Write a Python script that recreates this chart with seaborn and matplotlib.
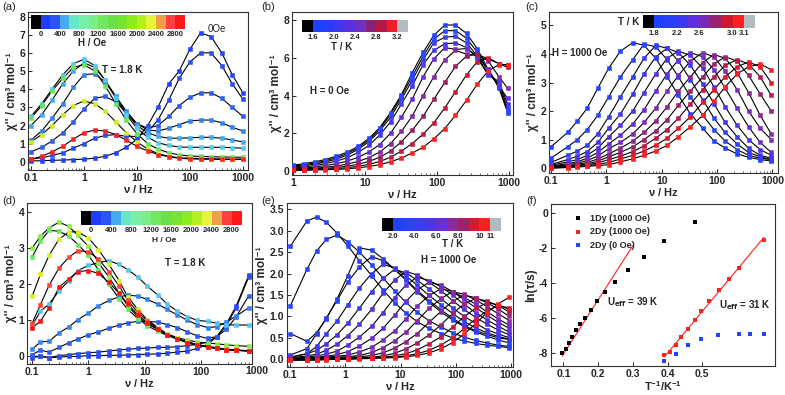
import numpy as np
import pandas as pd
import matplotlib
matplotlib.use("Agg")
import matplotlib.pyplot as plt
import seaborn as sns
from matplotlib.colors import ListedColormap
from matplotlib.ticker import FixedLocator, FixedFormatter, LogLocator, NullFormatter

sns.set_style("ticks")
plt.rcParams['font.family'] = ['Liberation Sans', 'DejaVu Sans']
plt.rcParams['font.weight'] = 'bold'
plt.rcParams['axes.labelweight'] = 'bold'
plt.rcParams['axes.unicode_minus'] = False
plt.rcParams['mathtext.default'] = 'regular'

W, H = 785, 395

# ---------------- (a) 1.8 K, field dependence ----------------
freq_a = [0.1, 0.16, 0.25, 0.4, 0.63, 1, 1.6, 2.5, 4, 6.3, 10, 16, 25, 40, 63, 100, 160, 250, 400, 630, 1000]
chi_a_0 = [0.05, 0.06, 0.08, 0.1, 0.12, 0.15, 0.2, 0.3, 0.5, 0.8, 1.25, 2.0, 3.0, 4.3, 5.0, 6.2, 7.1, 6.9, 6.0, 4.8, 3.8]
chi_a_200 = [0.15, 0.22, 0.35, 0.5, 0.75, 1.0, 1.3, 1.45, 1.5, 1.4, 1.4, 1.65, 2.3, 3.4, 4.6, 5.5, 6.0, 6.0, 5.3, 4.3, 3.45]
chi_a_400 = [0.55, 0.8, 1.15, 1.6, 2.2, 2.9, 3.5, 3.6, 3.3, 2.7, 2.1, 1.85, 2.0, 2.5, 3.1, 3.55, 3.8, 3.8, 3.5, 3.0, 2.5]
chi_a_600 = [1.2, 1.7, 2.4, 3.2, 4.1, 4.8, 4.85, 4.4, 3.6, 2.8, 2.1, 1.75, 1.7, 1.85, 2.05, 2.25, 2.3, 2.3, 2.15, 1.9, 1.7]
chi_a_800 = [2.0, 2.6, 3.4, 4.3, 5.0, 5.45, 5.2, 4.5, 3.6, 2.7, 2.0, 1.6, 1.4, 1.3, 1.3, 1.32, 1.35, 1.35, 1.3, 1.2, 1.1]
chi_a_1000 = [2.5, 3.2, 4.0, 4.8, 5.4, 5.65, 5.3, 4.5, 3.5, 2.6, 1.85, 1.35, 1.05, 0.9, 0.82, 0.8, 0.8, 0.8, 0.8, 0.78, 0.75]
chi_a_1400 = [2.4, 3.1, 3.9, 4.6, 5.2, 5.35, 5.0, 4.2, 3.2, 2.3, 1.55, 1.0, 0.7, 0.5, 0.38, 0.32, 0.3, 0.28, 0.27, 0.26, 0.25]
chi_a_2000 = [1.1, 1.5, 2.0, 2.6, 3.1, 3.35, 3.2, 2.8, 2.2, 1.6, 1.1, 0.7, 0.45, 0.3, 0.22, 0.2, 0.18, 0.17, 0.16, 0.15, 0.15]
chi_a_2800 = [0.15, 0.3, 0.55, 0.85, 1.25, 1.6, 1.75, 1.7, 1.5, 1.2, 0.85, 0.6, 0.4, 0.28, 0.2, 0.16, 0.15, 0.14, 0.13, 0.13, 0.13]
curves_a = [chi_a_0, chi_a_200, chi_a_400, chi_a_600, chi_a_800, chi_a_1000, chi_a_1400, chi_a_2000, chi_a_2800]
colors_a = ["#2244ff", "#2a50f4", "#2e60f0", "#3584ee", "#44aaee", "#55ccee", "#66e855", "#ccee22", "#ff2222"]

# ---------------- (b) zero field, temperature dependence ----------------
freq_b = [1, 1.41, 2, 2.8, 4, 5.7, 8, 11.3, 16, 22.6, 32, 45, 64, 90, 128, 180, 256, 360, 510, 720, 950]
chi_b_1 = [0.30, 0.38, 0.48, 0.60, 0.78, 1.00, 1.30, 1.72, 2.30, 3.10, 4.05, 5.20, 6.30, 7.20, 7.75, 7.75, 7.30, 6.50, 5.40, 4.40, 3.10]
chi_b_2 = [0.25, 0.32, 0.42, 0.53, 0.70, 0.92, 1.22, 1.65, 2.22, 3.00, 3.95, 5.00, 6.10, 7.00, 7.45, 7.45, 7.05, 6.30, 5.30, 4.50, 3.20]
chi_b_3 = [0.20, 0.27, 0.36, 0.47, 0.62, 0.84, 1.14, 1.55, 2.12, 2.85, 3.80, 4.80, 5.90, 6.80, 7.10, 7.15, 6.80, 6.10, 5.15, 4.65, 3.35]
chi_b_4 = [0.15, 0.20, 0.28, 0.38, 0.52, 0.70, 0.98, 1.35, 1.90, 2.60, 3.55, 4.50, 5.65, 6.40, 6.75, 6.80, 6.55, 6.00, 5.10, 4.75, 3.55]
chi_b_5 = [0.10, 0.14, 0.20, 0.28, 0.38, 0.52, 0.72, 1.00, 1.40, 2.00, 2.85, 3.80, 5.00, 5.95, 6.55, 6.45, 6.50, 6.10, 5.40, 4.50, 3.85]
chi_b_6 = [0.07, 0.10, 0.14, 0.19, 0.26, 0.36, 0.50, 0.70, 1.00, 1.45, 2.10, 2.90, 4.00, 5.00, 5.90, 6.40, 6.20, 6.15, 5.85, 5.00, 4.40]
chi_b_7 = [0.05, 0.07, 0.10, 0.13, 0.18, 0.25, 0.35, 0.50, 0.72, 1.05, 1.55, 2.15, 2.90, 3.80, 4.70, 5.55, 6.10, 6.20, 5.95, 5.70, 5.50]
chi_b_8 = [0.03, 0.05, 0.07, 0.09, 0.12, 0.17, 0.24, 0.34, 0.50, 0.72, 1.05, 1.45, 1.95, 2.55, 3.35, 4.20, 5.10, 5.80, 6.00, 5.70, 5.60]
chi_b_9 = [0.02, 0.03, 0.05, 0.06, 0.08, 0.11, 0.16, 0.23, 0.33, 0.48, 0.68, 0.95, 1.25, 1.70, 2.25, 2.95, 3.75, 4.60, 5.30, 5.65, 5.65]
curves_b = [chi_b_1, chi_b_2, chi_b_3, chi_b_4, chi_b_5, chi_b_6, chi_b_7, chi_b_8, chi_b_9]
colors_b = ["#2244ff", "#2a48ff", "#3a40f4", "#4a38ee", "#6a30dd", "#8a2aa8", "#9a2060", "#cc1840", "#ff2020"]

# ---------------- (c) 1000 Oe, 1.8 - 3.1 K ----------------
freq_c = [0.1, 0.2, 0.3, 0.45, 0.7, 1.1, 1.8, 3, 4.8, 7.8, 12.5, 20, 33, 55, 88, 140, 230, 370, 600, 950]
chi_c_1 = [0.75, 1.25, 1.65, 2.1, 2.8, 3.5, 4.1, 4.4, 4.3, 3.85, 3.2, 2.55, 1.9, 1.4, 0.95, 0.7, 0.5, 0.38, 0.3, 0.25]
chi_c_2 = [0.35, 0.75, 1.0, 1.35, 1.85, 2.5, 3.2, 3.8, 4.35, 4.25, 3.8, 3.2, 2.5, 1.85, 1.35, 0.95, 0.65, 0.45, 0.35, 0.3]
chi_c_3 = [0.2, 0.45, 0.6, 0.8, 1.2, 1.8, 2.5, 3.2, 3.85, 4.3, 4.2, 3.75, 3.1, 2.4, 1.75, 1.25, 0.85, 0.55, 0.4, 0.3]
chi_c_4 = [0.13, 0.3, 0.42, 0.58, 0.9, 1.4, 1.9, 2.6, 3.3, 3.9, 4.2, 4.05, 3.6, 2.95, 2.25, 1.6, 1.1, 0.7, 0.45, 0.35]
chi_c_5 = [0.1, 0.22, 0.3, 0.45, 0.7, 1.1, 1.5, 2.0, 2.65, 3.3, 3.85, 4.1, 3.95, 3.5, 2.85, 2.15, 1.5, 1.0, 0.65, 0.45]
chi_c_6 = [0.07, 0.16, 0.22, 0.35, 0.55, 0.85, 1.15, 1.55, 2.05, 2.7, 3.3, 3.8, 4.05, 3.9, 3.45, 2.8, 2.1, 1.45, 0.9, 0.55]
chi_c_7 = [0.05, 0.12, 0.17, 0.27, 0.42, 0.68, 0.9, 1.2, 1.6, 2.1, 2.7, 3.25, 3.75, 4.05, 3.9, 3.4, 2.75, 2.0, 1.4, 1.0]
chi_c_8 = [0.04, 0.09, 0.13, 0.2, 0.32, 0.5, 0.7, 0.95, 1.25, 1.65, 2.15, 2.7, 3.2, 3.7, 3.98, 3.85, 3.35, 2.65, 1.85, 1.2]
chi_c_9 = [0.03, 0.07, 0.1, 0.15, 0.24, 0.4, 0.55, 0.75, 1.0, 1.3, 1.7, 2.2, 2.7, 3.2, 3.65, 3.9, 3.75, 3.25, 2.6, 2.0]
chi_c_10 = [0.02, 0.05, 0.08, 0.12, 0.18, 0.3, 0.42, 0.58, 0.78, 1.05, 1.35, 1.75, 2.25, 2.75, 3.2, 3.6, 3.8, 3.65, 3.2, 2.55]
chi_c_11 = [0.01, 0.03, 0.06, 0.09, 0.13, 0.2, 0.32, 0.45, 0.6, 0.8, 1.05, 1.4, 1.8, 2.3, 2.75, 3.2, 3.55, 3.72, 3.55, 3.0]
chi_c_12 = [0.0, 0.02, 0.04, 0.06, 0.09, 0.12, 0.22, 0.33, 0.45, 0.6, 0.8, 1.1, 1.45, 1.85, 2.35, 2.85, 3.3, 3.55, 3.65, 3.45]
curves_c = [chi_c_1, chi_c_2, chi_c_3, chi_c_4, chi_c_5, chi_c_6, chi_c_7, chi_c_8, chi_c_9, chi_c_10, chi_c_11, chi_c_12]
colors_c = ["#2244ff", "#2a48f8", "#3440f0", "#4038ee", "#5234e4", "#6a30d8", "#7e2cc0", "#902690", "#a02070", "#c01848", "#e81828", "#ff2020"]

# ---------------- (d) 1.8 K, field dependence ----------------
freq_d = [0.1, 0.14, 0.2, 0.3, 0.45, 0.65, 1, 1.5, 2.3, 3.5, 5, 7.5, 11, 17, 25, 38, 57, 85, 130, 190, 280, 420, 700]
chi_d_0 = [-0.03, 0.0, -0.03, -0.02, 0.0, 0.0, 0.02, 0.02, 0.03, 0.03, 0.04, 0.05, 0.06, 0.07, 0.09, 0.12, 0.15, 0.22, 0.33, 0.55, 0.9, 1.4, 2.25]
chi_d_200 = [0.0, 0.0, -0.03, 0.02, 0.05, 0.08, 0.1, 0.12, 0.15, 0.18, 0.2, 0.22, 0.23, 0.25, 0.25, 0.27, 0.3, 0.33, 0.4, 0.55, 0.85, 1.35, 2.2]
chi_d_400 = [0.05, 0.17, 0.12, 0.25, 0.38, 0.48, 0.6, 0.68, 0.78, 0.87, 0.93, 0.97, 0.97, 0.95, 0.88, 0.8, 0.68, 0.57, 0.5, 0.55, 0.75, 1.1, 1.68]
chi_d_600 = [0.2, 0.4, 0.42, 0.65, 0.82, 1.02, 1.2, 1.4, 1.55, 1.65, 1.7, 1.67, 1.58, 1.45, 1.3, 1.15, 1.0, 0.88, 0.8, 0.82, 0.95, 1.12, 1.35]
chi_d_800 = [0.85, 1.25, 1.45, 1.82, 2.1, 2.38, 2.52, 2.6, 2.65, 2.55, 2.4, 2.2, 1.95, 1.7, 1.45, 1.25, 1.1, 1.0, 0.97, 0.92, 0.88, 0.87, 0.87]
chi_d_1200 = [3.0, 3.33, 3.56, 3.72, 3.6, 3.35, 3.05, 2.6, 2.2, 1.75, 1.4, 1.1, 0.9, 0.75, 0.62, 0.52, 0.45, 0.4, 0.37, 0.35, 0.32, 0.3, 0.28]
chi_d_1600 = [2.75, 3.19, 3.49, 3.47, 3.33, 3.1, 2.8, 2.4, 2.0, 1.6, 1.3, 1.05, 0.85, 0.7, 0.58, 0.48, 0.4, 0.33, 0.28, 0.24, 0.2, 0.18, 0.16]
chi_d_2000 = [1.67, 2.27, 2.8, 3.25, 3.45, 3.45, 3.28, 2.96, 2.55, 2.1, 1.65, 1.3, 1.02, 0.8, 0.62, 0.5, 0.4, 0.33, 0.27, 0.22, 0.19, 0.17, 0.15]
chi_d_2400 = [0.92, 1.43, 1.97, 2.45, 2.75, 2.93, 2.9, 2.7, 2.35, 1.95, 1.55, 1.22, 0.98, 0.77, 0.6, 0.48, 0.38, 0.31, 0.26, 0.22, 0.19, 0.17, 0.15]
chi_d_2800 = [0.8, 0.97, 1.35, 1.92, 2.15, 2.35, 2.38, 2.3, 2.05, 1.75, 1.45, 1.15, 0.93, 0.75, 0.6, 0.48, 0.38, 0.31, 0.26, 0.22, 0.19, 0.17, 0.15]
curves_d = [chi_d_0, chi_d_200, chi_d_400, chi_d_600, chi_d_800, chi_d_1200, chi_d_1600, chi_d_2000, chi_d_2400, chi_d_2800]
colors_d = ["#2244ff", "#2a50f4", "#2e60f0", "#3584ee", "#55c4ee", "#88ee44", "#66e866", "#ddee22", "#ff4433", "#ff1111"]

# ---------------- (e) 1000 Oe, 2 - 11 K ----------------
freq_e = [0.1, 0.2, 0.3, 0.45, 0.7, 1.1, 1.8, 3, 4.8, 7.8, 12.5, 20, 33, 55, 88, 140, 230, 370, 600, 950]
chi_e_1 = [2.64, 3.23, 3.32, 3.2, 2.95, 2.65, 2.3, 1.95, 1.62, 1.32, 1.08, 0.88, 0.72, 0.6, 0.5, 0.43, 0.37, 0.33, 0.3, 0.27]
chi_e_2 = [1.25, 2.1, 2.53, 2.8, 2.9, 2.75, 2.5, 2.2, 1.9, 1.6, 1.33, 1.1, 0.9, 0.75, 0.62, 0.52, 0.44, 0.38, 0.33, 0.3]
chi_e_3 = [0.6, 0.42, 0.62, 0.95, 1.4, 1.95, 2.6, 2.55, 2.35, 2.1, 1.85, 1.58, 1.33, 1.1, 0.92, 0.77, 0.64, 0.54, 0.45, 0.38]
chi_e_4 = [0.1, 0.25, 0.6, 0.96, 1.37, 1.8, 2.16, 2.4, 2.3, 2.11, 1.87, 1.61, 1.37, 1.15, 0.96, 0.79, 0.67, 0.58, 0.5, 0.46]
chi_e_5 = [0.05, 0.13, 0.3, 0.6, 0.89, 1.27, 1.67, 2.0, 2.22, 2.13, 1.95, 1.73, 1.49, 1.27, 1.07, 0.89, 0.73, 0.62, 0.53, 0.47]
chi_e_6 = [0.05, 0.13, 0.21, 0.36, 0.57, 0.84, 1.2, 1.58, 1.89, 2.1, 2.02, 1.85, 1.64, 1.41, 1.2, 1.01, 0.84, 0.69, 0.59, 0.5]
chi_e_7 = [0.03, 0.08, 0.12, 0.21, 0.35, 0.55, 0.82, 1.17, 1.54, 1.85, 2.05, 1.97, 1.8, 1.6, 1.37, 1.17, 0.98, 0.82, 0.68, 0.57]
chi_e_8 = [0.02, 0.05, 0.08, 0.12, 0.19, 0.33, 0.52, 0.77, 1.09, 1.44, 1.73, 1.92, 1.84, 1.69, 1.5, 1.29, 1.09, 0.92, 0.77, 0.63]
chi_e_9 = [0.02, 0.03, 0.05, 0.07, 0.11, 0.18, 0.31, 0.49, 0.72, 1.03, 1.35, 1.62, 1.8, 1.73, 1.58, 1.4, 1.21, 1.03, 0.86, 0.72]
chi_e_10 = [0.01, 0.02, 0.03, 0.05, 0.07, 0.1, 0.17, 0.28, 0.45, 0.66, 0.94, 1.24, 1.49, 1.65, 1.58, 1.45, 1.29, 1.11, 0.94, 0.79]
chi_e_11 = [0.0, 0.01, 0.02, 0.03, 0.05, 0.06, 0.09, 0.16, 0.27, 0.43, 0.63, 0.9, 1.19, 1.42, 1.58, 1.52, 1.39, 1.23, 1.06, 0.9]
chi_e_12 = [0.0, 0.0, 0.01, 0.02, 0.03, 0.04, 0.06, 0.09, 0.15, 0.26, 0.41, 0.6, 0.86, 1.13, 1.35, 1.5, 1.44, 1.32, 1.17, 1.0]
chi_e_13 = [0.0, 0.0, 0.0, 0.01, 0.02, 0.03, 0.04, 0.05, 0.08, 0.14, 0.24, 0.38, 0.57, 0.81, 1.07, 1.28, 1.42, 1.36, 1.25, 1.1]
chi_e_14 = [0.0, 0.0, 0.0, 0.0, 0.01, 0.02, 0.03, 0.04, 0.05, 0.08, 0.13, 0.22, 0.36, 0.53, 0.75, 0.99, 1.19, 1.32, 1.27, 1.16]
chi_e_15 = [-0.02, -0.02, -0.01, 0.0, 0.0, 0.01, 0.02, 0.03, 0.04, 0.05, 0.08, 0.13, 0.21, 0.34, 0.5, 0.71, 0.94, 1.13, 1.25, 1.2]
chi_e_16 = [-0.02, -0.02, -0.02, -0.01, 0.0, 0.0, 0.01, 0.02, 0.03, 0.04, 0.06, 0.09, 0.15, 0.25, 0.39, 0.58, 0.83, 1.09, 1.3, 1.45]
curves_e = [chi_e_1, chi_e_2, chi_e_3, chi_e_4, chi_e_5, chi_e_6, chi_e_7, chi_e_8,
            chi_e_9, chi_e_10, chi_e_11, chi_e_12, chi_e_13, chi_e_14, chi_e_15, chi_e_16]
colors_e = ["#2244ff", "#2446ff", "#2a44f8", "#3040f4", "#3a3cf0", "#4438ec", "#5034e6", "#5e30e0",
            "#6c2ed6", "#7a2cc4", "#8a28a8", "#982490", "#a42070", "#c01a48", "#e01830", "#ff2020"]

# ---------------- (f) Arrhenius ----------------
invT_1dy = [0.096, 0.108, 0.116, 0.125, 0.137, 0.149, 0.163, 0.18, 0.197, 0.221, 0.249, 0.286, 0.332, 0.391, 0.478]
lntau_1dy = [-8.0, -7.76, -7.44, -7.12, -6.72, -6.37, -5.99, -5.56, -5.04, -4.52, -3.95, -3.29, -2.54, -1.64, -0.53]
invT_2dy = [0.391, 0.406, 0.425, 0.44, 0.459, 0.478, 0.497, 0.521, 0.548, 0.576, 0.606, 0.678]
lntau_2dy = [-8.15, -7.97, -7.53, -7.1, -6.63, -6.12, -5.59, -5.03, -4.43, -3.8, -3.14, -1.54]
invT_2dy0 = [0.391, 0.425, 0.459, 0.497, 0.547, 0.606, 0.639, 0.678]
lntau_2dy0 = [-8.44, -8.06, -7.53, -7.19, -7.0, -6.91, -6.91, -6.93]
fit1_x = [0.096, 0.3]
fit1_y = [-8.19, -1.88]
fit2_x = [0.391, 0.678]
fit2_y = [-8.23, -1.41]

# colour bars (discrete blocks)
cbar_H = ["#000000", "#1e3cff", "#2a55f0", "#45aaf0", "#66e8c8", "#77f0a8", "#7cee88", "#70e860",
          "#6ae048", "#78e430", "#8cec20", "#b4f020", "#e4f43c", "#eca048", "#ff4040", "#ff1818"]
cbar_H_labels = ["0", "400", "800", "1200", "1600", "2000", "2400", "2800"]
cbar_b = ["#000000", "#1e40ff", "#2a3cf8", "#4038f0", "#5a30e0", "#7030c8", "#8a2078", "#b81848", "#f01c28", "#b0bcc0"]
cbar_b_labels = ["1.6", "2.0", "2.4", "2.8", "3.2"]
cbar_c = ["#000000", "#1e40ff", "#2a40f8", "#3c38f0", "#6030e0", "#7a2ab8", "#9a2070", "#d01830", "#ff2020", "#b0bcc0"]
cbar_c_labels = ["1.8", "2.2", "2.6", "3.0", "3.1"]
cbar_e = ["#000000", "#1e40ff", "#2a44f8", "#3a3cf0", "#4a34e8", "#6a30d8", "#8a2aa0", "#a02068", "#d81830", "#ff2020", "#b0bcc0"]
cbar_e_labels = ["2.0", "4.0", "6.0", "8.0", "10", "11"]

fig = plt.figure(figsize=(W / 100, H / 100), dpi=100)


def px_axes(l, t, r, b):
    return fig.add_axes([l / W, 1 - b / H, (r - l) / W, (b - t) / H])


def ftext(x, y, s, **kw):
    kw.setdefault("fontsize", 7)
    kw.setdefault("fontweight", "bold")
    fig.text(x / W, 1 - y / H, s, ha=kw.pop("ha", "center"), va=kw.pop("va", "center"), **kw)


def style(ax):
    ax.tick_params(direction="in", labelsize=7.5, width=0.7, length=3, pad=2)
    ax.tick_params(which="minor", direction="in", width=0.5, length=1.8)
    for s in ax.spines.values():
        s.set_linewidth(0.8)
        s.set_color("#333333")


def draw_chi(ax, freq, curves, colors):
    ax.set_xscale("log")
    for vals, col in zip(curves, colors):
        df = pd.DataFrame({"f": freq, "chi": vals})
        sns.lineplot(data=df, x="f", y="chi", color="k", lw=0.8, ax=ax,
                     estimator=None, sort=False, zorder=2)
        sns.scatterplot(data=df, x="f", y="chi", color=col, marker="s", s=12,
                        edgecolor=col, linewidth=0.4, ax=ax, zorder=3)
    ax.set_xlabel(r"$\nu$ / Hz", fontsize=8, labelpad=0)
    ax.set_ylabel("χ'' / cm³ mol⁻¹", fontsize=8.5, labelpad=1)
    style(ax)


def log_ticks(ax, ticks, labels):
    ax.xaxis.set_major_locator(FixedLocator(ticks))
    ax.xaxis.set_major_formatter(FixedFormatter(labels))
    ax.xaxis.set_minor_locator(LogLocator(base=10, subs=np.arange(2, 10)))
    ax.xaxis.set_minor_formatter(NullFormatter())


def block_bar(l, t, r, b, colors, labels, positions):
    cax = px_axes(l, t, r, b)
    n = len(colors)
    cax.imshow(np.arange(n)[None, :], cmap=ListedColormap(colors), aspect="auto",
               extent=(0, n, 0, 1), interpolation="nearest")
    cax.set_xlim(0, n)
    cax.set_yticks([])
    cax.set_xticks(positions)
    cax.set_xticklabels(labels, fontsize=5.5, fontweight="bold")
    cax.tick_params(length=0, pad=1.5)
    for s in cax.spines.values():
        s.set_visible(False)
    return cax


# (a)
ax_a = px_axes(28, 12, 248, 170)
draw_chi(ax_a, freq_a, curves_a, colors_a)
ax_a.set_xlim(0.088, 1250)
ax_a.set_ylim(-0.45, 8.25)
ax_a.set_yticks(range(0, 9))
log_ticks(ax_a, [0.1, 1, 10, 100, 1000], ["0.1", "1", "10", "100", "1000"])
block_bar(31, 15, 185, 29, cbar_H, cbar_H_labels, [1, 3, 5, 7, 9, 11, 13, 15])
ftext(92, 43, "H / Oe")
ftext(217, 29, "0Oe", fontweight="normal")
ftext(122, 70, "T = 1.8 K")

# (b)
ax_b = px_axes(292, 12, 513, 175)
draw_chi(ax_b, freq_b, curves_b, colors_b)
ax_b.set_xlim(0.97, 1130)
ax_b.set_ylim(-0.22, 8.44)
ax_b.set_yticks([0, 2, 4, 6, 8])
log_ticks(ax_b, [1, 10, 100, 1000], ["1", "10", "100", "1000"])
block_bar(302, 20, 408, 32, cbar_b, cbar_b_labels, [1, 3, 5, 7, 9])
ftext(342, 47, "T / K")
ftext(330, 91, "H = 0 Oe")

# (c)
ax_c = px_axes(549, 12, 778, 173)
draw_chi(ax_c, freq_c, curves_c, colors_c)
ax_c.set_xlim(0.092, 1260)
ax_c.set_ylim(-0.17, 5.47)
ax_c.set_yticks(range(0, 6))
log_ticks(ax_c, [0.1, 1, 10, 100, 1000], ["0.1", "1", "10", "100", "1000"])
block_bar(643, 15, 755, 28, cbar_c, cbar_c_labels, [1, 3, 5, 8, 9])
ftext(629, 22, "T / K")
ftext(580, 53, "H = 1000 Oe")

# (d)
ax_d = px_axes(27, 203, 252, 364)
draw_chi(ax_d, freq_d, curves_d, colors_d)
ax_d.set_xlim(0.081, 800)
ax_d.set_ylim(-0.21, 4.25)
ax_d.set_yticks(range(0, 5))
log_ticks(ax_d, [0.1, 1, 10, 100], ["0.1", "1", "10", "100"])
ftext(257, 371, "1000", fontsize=7.5)
block_bar(81, 211, 241, 225, cbar_H, cbar_H_labels, [1, 3, 5, 7, 9, 11, 13, 15])
ftext(164, 240, "H / Oe", fontsize=6)
ftext(185, 263, "T = 1.8 K")

# (e)
ax_e = px_axes(287, 203, 513, 367)
draw_chi(ax_e, freq_e, curves_e, colors_e)
ax_e.set_xlim(0.087, 1100)
ax_e.set_ylim(-0.18, 3.65)
ax_e.set_yticks(np.arange(0, 3.6, 0.5))
ax_e.set_yticklabels([f"{v:.1f}" for v in np.arange(0, 3.6, 0.5)])
log_ticks(ax_e, [0.1, 1, 10, 100, 1000], ["0.1", "1", "10", "100", "1000"])
block_bar(382, 218, 501, 231, cbar_e, cbar_e_labels, [1, 3, 5, 7, 9, 10])
ftext(453, 244, "T / K")
ftext(449, 260, "H = 1000 Oe")

# (f)
ax_f = px_axes(551, 204, 775, 366)
sns.scatterplot(x=invT_1dy, y=lntau_1dy, color="black", marker="s", s=12, linewidth=0,
                ax=ax_f, label="1Dy (1000 Oe)", zorder=3)
sns.scatterplot(x=invT_2dy, y=lntau_2dy, color="#ff2020", marker="s", s=12, linewidth=0,
                ax=ax_f, label="2Dy (1000 Oe)", zorder=3)
sns.scatterplot(x=invT_2dy0, y=lntau_2dy0, color="#2244ff", marker="s", s=12, linewidth=0,
                ax=ax_f, label="2Dy (0 Oe)", zorder=3)
sns.lineplot(x=fit1_x, y=fit1_y, color="#ff2020", lw=0.8, ax=ax_f, zorder=2)
sns.lineplot(x=fit2_x, y=fit2_y, color="#ff2020", lw=0.8, ax=ax_f, zorder=2)
ax_f.set_xlim(0.064, 0.71)
ax_f.set_ylim(-8.75, 0.5)
ax_f.set_xticks([0.1, 0.2, 0.3, 0.4, 0.5])
ax_f.set_yticks([-8, -6, -4, -2, 0])
ax_f.set_xlabel(r"$T^{-1}$/K$^{-1}$", fontsize=8, labelpad=0)
ax_f.set_ylabel("ln(τ/s)", fontsize=8.5, labelpad=1)
style(ax_f)
ax_f.legend(loc="upper left", bbox_to_anchor=(0.05, 0.98), frameon=False, fontsize=6.5,
            handletextpad=0.4, labelspacing=0.5, borderpad=0.2, markerscale=1.0)
ftext(607, 302, r"U$_{\rm eff}$ = 39 K", ha="left")
ftext(719, 305, r"U$_{\rm eff}$ = 31 K", ha="left")

# panel letters
for (x, y, s) in [(9, 7, "(a)"), (268, 7, "(b)"), (532, 7, "(c)"),
                  (9, 201, "(d)"), (268, 201, "(e)"), (532, 201, "(f)")]:
    ftext(x, y, s, fontsize=8, fontweight="normal")

fig.savefig("out.png", dpi=100)
